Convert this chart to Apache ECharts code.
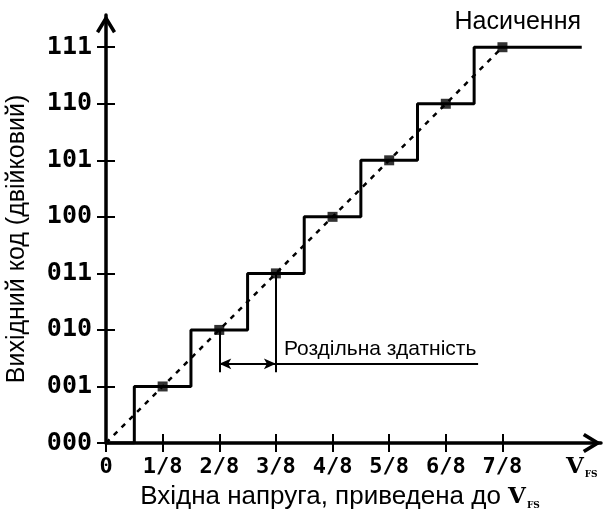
<!DOCTYPE html>
<html>
<head>
<meta charset="utf-8">
<script src="https://cdn.jsdelivr.net/npm/echarts@6/dist/echarts.min.js"></script>
<style>
  html, body { margin: 0; padding: 0; background: #fff; }
  #chart { width: 603px; height: 513px; }
</style>
</head>
<body>
<div id="chart"></div>
<script>
// input in units of V_FS/8, output as code index
const xTicks = [0, 1, 2, 3, 4, 5, 6, 7];
const xTickLabels = ["0", "1/8", "2/8", "3/8", "4/8", "5/8", "6/8", "7/8"];
const yTicks = [0, 1, 2, 3, 4, 5, 6, 7];
const codeLabels = ["000", "001", "010", "011", "100", "101", "110", "111"];
const stepEdges = [0.5, 1.5, 2.5, 3.5, 4.5, 5.5, 6.5];
const stepCodes = [1, 2, 3, 4, 5, 6, 7];
const saturationEnd = 8.4;
const idealX = [1, 2, 3, 4, 5, 6, 7];
const idealY = [1, 2, 3, 4, 5, 6, 7];
const vfsPos = 8.4;

const stepData = [[0, 0]]
  .concat(stepEdges.map((x, i) => [x, stepCodes[i]]))
  .concat([[saturationEnd, stepCodes[stepCodes.length - 1]]]);
const markerData = idealX.map((x, i) => [x, idealY[i]]);

const chevron = "path://M10 0 L20 16.5 L17 18.5 L10 7 L3 18.5 L0 16.5 Z";
const black = "#000";
const sans = "Liberation Sans";
const mono = "DejaVu Sans Mono";
const slab = "DejaVu Serif";

const vfsRich = {
  v: { fontFamily: slab, fontWeight: "bold", fontSize: 23, color: black },
  s: { fontFamily: slab, fontWeight: "bold", fontSize: 9, color: black, verticalAlign: "bottom", padding: [9, 0, 0, 1] },
};

const chart = echarts.init(document.getElementById("chart"));

chart.setOption({
  animation: false,
  grid: { left: 106, right: 2, top: 15, bottom: 70, outerBoundsMode: "none", containLabel: false },
  xAxis: [
    {
      type: "value",
      min: 0,
      max: 8.74,
      splitLine: { show: false },
      axisLine: {
        lineStyle: { color: black, width: 3.5 },
        symbol: ["none", chevron],
        symbolSize: [20, 19],
        symbolOffset: [0, -9],
      },
      axisTick: { show: true, customValues: xTicks, length: 9, lineStyle: { color: black, width: 2 } },
      axisLabel: {
        customValues: xTicks.concat([vfsPos]),
        margin: 13,
        color: black,
        fontFamily: mono,
        fontWeight: "bold",
        fontSize: 22,
        formatter: (v) => {
          const i = xTicks.indexOf(v);
          if (i >= 0) return xTickLabels[i];
          return "{v|V}{s|FS}";
        },
        rich: vfsRich,
      },
      name: "{t|Вхідна напруга, приведена до }{v|V}{s|FS}",
      nameLocation: "middle",
      nameGap: 36,
      nameTextStyle: {
        rich: Object.assign({ t: { fontFamily: sans, fontSize: 26, color: black } }, vfsRich),
        padding: [0, 27, 0, 0],
      },
    },
    {
      type: "value",
      min: 0,
      max: 8.74,
      splitLine: { show: false },
      axisLine: { show: false },
      axisTick: { show: true, inside: true, customValues: xTicks, length: 9, lineStyle: { color: black, width: 2 } },
      axisLabel: { show: false },
      position: "bottom",
    },
  ],
  yAxis: [
    {
      type: "value",
      min: 0,
      max: 7.57,
      splitLine: { show: false },
      axisLine: {
        lineStyle: { color: black, width: 3.5 },
        symbol: ["none", chevron],
        symbolSize: [20, 19],
        symbolOffset: [0, -9],
      },
      axisTick: { show: true, customValues: yTicks, length: 9, lineStyle: { color: black, width: 2 } },
      axisLabel: {
        customValues: yTicks,
        margin: 14,
        color: black,
        fontFamily: mono,
        fontWeight: "bold",
        fontSize: 25,
        formatter: (v) => codeLabels[yTicks.indexOf(v)],
      },
      name: "Вихідний код (двійковий)",
      nameLocation: "middle",
      nameGap: 76,
      nameTextStyle: { fontFamily: sans, fontSize: 25, color: black, padding: [0, 20, 0, 0] },
    },
    {
      type: "value",
      min: 0,
      max: 7.57,
      splitLine: { show: false },
      axisLine: { show: false },
      axisTick: { show: true, inside: true, customValues: yTicks, length: 9, lineStyle: { color: black, width: 2 } },
      axisLabel: { show: false },
      position: "left",
    },
  ],
  series: [
    {
      type: "line",
      data: [[0, 0], [7, 7]],
      symbol: "none",
      lineStyle: { color: black, width: 2.5, type: [5, 6] },
      z: 2,
    },
    {
      type: "line",
      data: stepData,
      step: "end",
      symbol: "none",
      lineStyle: { color: black, width: 3 },
      z: 3,
      markPoint: {
        symbol: "circle",
        symbolSize: 0,
        label: { show: true, position: "inside", formatter: "Насичення", fontFamily: sans, fontSize: 25, color: black },
        data: [{ coord: [7.27, 7.44] }],
      },
    },
    {
      type: "scatter",
      data: markerData,
      symbol: "rect",
      symbolSize: 10,
      itemStyle: { color: black },
      z: 5,
    },
    {
      type: "line",
      data: [],
      markLine: {
        silent: true,
        symbol: ["none", "none"],
        lineStyle: { color: black, width: 2, type: "solid" },
        label: { show: false },
        data: [
          [{ coord: [2, 2] }, { coord: [2, 1.25] }],
          [{ coord: [3, 3] }, { coord: [3, 1.25] }],
          [
            { coord: [2, 1.4], symbol: "arrow", symbolSize: [8, 12] },
            { coord: [3, 1.4], symbol: "arrow", symbolSize: [8, 12] },
          ],
          [
            {
              coord: [3, 1.4],
              label: {
                show: true,
                position: "insideStartTop",
                formatter: "Роздільна здатність",
                fontFamily: sans,
                fontSize: 21,
                color: black,
                distance: [8, 4],
              },
            },
            { coord: [6.57, 1.4] },
          ],
        ],
      },
    },
  ],
});
</script>
</body>
</html>
